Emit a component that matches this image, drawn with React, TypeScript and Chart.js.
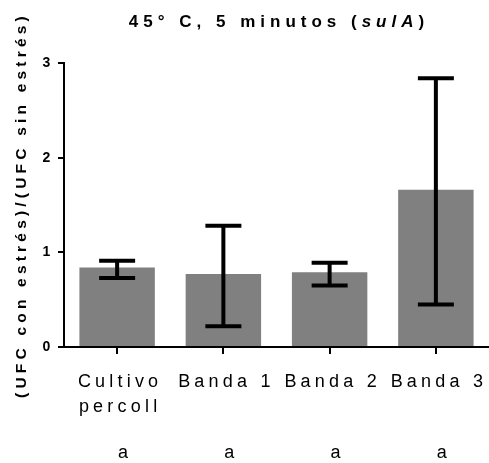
import React, { useEffect, useRef } from 'react';
import { Chart, registerables } from 'chart.js';

Chart.register(...registerables);

const categories: (string | string[])[] = [['Cultivo', 'percoll'], 'Banda 1', 'Banda 2', 'Banda 3'];
const groupLetters = ['a', 'a', 'a', 'a'];
const means = [0.84, 0.77, 0.79, 1.66];
const upper = [0.91, 1.28, 0.89, 2.84];
const lower = [0.73, 0.22, 0.65, 0.45];
const yMin = 0;
const yMax = 3;
const yStep = 1;
const titleParts = [
  { text: '45° C, 5 minutos (', italic: false },
  { text: 'sulA', italic: true },
  { text: ')', italic: false },
];
const yTitle = '(UFC con estrés)/(UFC sin estrés)';

const FAMILY = '"Liberation Sans", Arial, Helvetica, sans-serif';
const SPACING = 4.2;

const spacingPlugin = {
  id: 'spacing',
  beforeUpdate(chart: any) {
    chart.ctx.letterSpacing = SPACING + 'px';
  },
  beforeDraw(chart: any) {
    chart.ctx.letterSpacing = SPACING + 'px';
  },
};

const errorBarPlugin = {
  id: 'errorBars',
  afterDatasetsDraw(chart: any) {
    const meta = chart.getDatasetMeta(0);
    const y = chart.scales.y;
    const ctx = chart.ctx;
    ctx.save();
    ctx.strokeStyle = '#000';
    ctx.lineWidth = 4;
    ctx.lineCap = 'butt';
    meta.data.forEach((bar: any, i: number) => {
      const x = bar.x;
      const yh = y.getPixelForValue(upper[i]);
      const yl = y.getPixelForValue(lower[i]);
      const cap = 18;
      ctx.beginPath();
      ctx.moveTo(x, yh);
      ctx.lineTo(x, yl);
      ctx.moveTo(x - cap, yh);
      ctx.lineTo(x + cap, yh);
      ctx.moveTo(x - cap, yl);
      ctx.lineTo(x + cap, yl);
      ctx.stroke();
    });
    ctx.restore();
  },
};

const titlePlugin = {
  id: 'mixedTitle',
  afterDraw(chart: any) {
    const ctx = chart.ctx;
    const sp = 5;
    ctx.save();
    ctx.letterSpacing = sp + 'px';
    ctx.fillStyle = '#000';
    ctx.textAlign = 'left';
    ctx.textBaseline = 'alphabetic';
    const fontFor = (italic: boolean) => `${italic ? 'italic ' : ''}bold 17px ${FAMILY}`;
    let total = 0;
    const widths = titleParts.map((p) => {
      ctx.font = fontFor(p.italic);
      const w = ctx.measureText(p.text).width;
      total += w;
      return w;
    });
    const cx = (chart.chartArea.left + chart.chartArea.right) / 2;
    let x = cx - (total - sp) / 2;
    titleParts.forEach((p, i) => {
      ctx.font = fontFor(p.italic);
      ctx.fillText(p.text, x, 27);
      x += widths[i];
    });
    ctx.restore();
  },
};

export default function App() {
  const ref = useRef<HTMLCanvasElement | null>(null);

  useEffect(() => {
    if (!ref.current) return;
    const chart = new Chart(ref.current, {
      type: 'bar',
      data: {
        labels: categories,
        datasets: [
          {
            data: means,
            backgroundColor: '#808080',
            borderWidth: 0,
            barPercentage: 0.71,
            categoryPercentage: 1,
            xAxisID: 'x',
            yAxisID: 'y',
          },
        ],
      },
      options: {
        responsive: false,
        animation: false,
        devicePixelRatio: 1,
        layout: { padding: { top: 63, left: 0, right: 0, bottom: 0 } },
        plugins: {
          legend: { display: false },
          tooltip: { enabled: false },
          title: { display: false },
        },
        scales: {
          x: {
            type: 'category',
            position: 'bottom',
            offset: true,
            weight: 0,
            grid: {
              display: true,
              offset: false,
              drawOnChartArea: false,
              drawTicks: true,
              tickLength: 7,
              color: '#000',
              lineWidth: 2,
            },
            border: { display: true, color: '#000', width: 2 },
            ticks: {
              color: '#000',
              font: { family: FAMILY, size: 18, lineHeight: 1.42 },
              padding: 15,
              maxRotation: 0,
              minRotation: 0,
              autoSkip: false,
              labelOffset: 3,
            },
            afterFit: (s: any) => {
              s.height = 70;
              s.paddingLeft = 0;
              s.paddingRight = 0;
            },
          },
          x2: {
            type: 'category',
            labels: groupLetters,
            position: 'bottom',
            offset: true,
            weight: 1,
            grid: { display: false, drawTicks: false },
            border: { display: false },
            ticks: {
              color: '#000',
              font: { family: FAMILY, size: 18, lineHeight: 1.2 },
              padding: 25,
              maxRotation: 0,
              minRotation: 0,
              autoSkip: false,
              labelOffset: 8,
            },
            afterFit: (s: any) => {
              s.height = 46;
              s.paddingLeft = 0;
              s.paddingRight = 0;
            },
          },
          y: {
            type: 'linear',
            min: yMin,
            max: yMax,
            ticks: {
              stepSize: yStep,
              color: '#000',
              font: { family: FAMILY, size: 14, weight: 'bold' },
              padding: 3.5,
            },
            grid: {
              drawOnChartArea: false,
              drawTicks: true,
              tickLength: 6,
              color: '#000',
              lineWidth: 2,
            },
            border: { display: true, color: '#000', width: 2 },
            title: {
              display: true,
              text: yTitle,
              color: '#000',
              font: { family: FAMILY, size: 15.5, weight: 'bold', lineHeight: 1.2 },
              padding: { top: 12, bottom: 0 },
            },
            afterFit: (s: any) => {
              s.width = 64;
            },
          },
        },
      },
      plugins: [spacingPlugin, errorBarPlugin, titlePlugin],
    } as any);
    return () => chart.destroy();
  }, []);

  return (
    <div style={{ position: 'absolute', left: 0, top: 0, width: 489, height: 463 }}>
      <canvas ref={ref} width={489} height={463} style={{ display: 'block' }} />
    </div>
  );
}
